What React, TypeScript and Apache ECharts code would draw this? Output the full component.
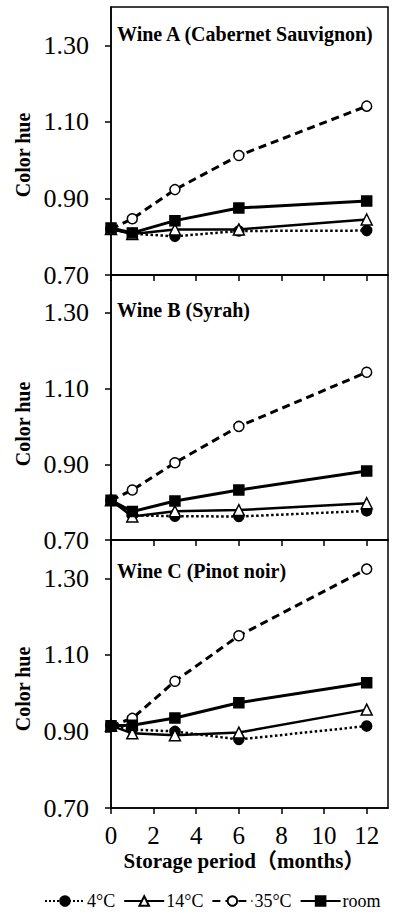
import React, { useEffect, useRef } from "react";
import * as echarts from "echarts";

const months = [0, 1, 3, 6, 12];
const seriesNames = ["4°C", "14°C", "35°C", "room"];
const panelTitles = ["Wine A (Cabernet Sauvignon)", "Wine B (Syrah)", "Wine C (Pinot noir)"];
const xTickValues = [0, 2, 4, 6, 8, 10, 12];
const yTickValues = [0.7, 0.9, 1.1, 1.3];

const wineA_4C = [0.82, 0.808, 0.801, 0.815, 0.816];
const wineA_14C = [0.82, 0.807, 0.819, 0.819, 0.845];
const wineA_35C = [0.82, 0.847, 0.923, 1.012, 1.141];
const wineA_room = [0.823, 0.81, 0.842, 0.875, 0.893];

const wineB_4C = [0.805, 0.765, 0.763, 0.762, 0.777];
const wineB_14C = [0.805, 0.762, 0.776, 0.779, 0.797];
const wineB_35C = [0.805, 0.832, 0.904, 1.0, 1.143];
const wineB_room = [0.805, 0.775, 0.803, 0.832, 0.882];

const wineC_4C = [0.915, 0.905, 0.9, 0.879, 0.914];
const wineC_14C = [0.915, 0.895, 0.89, 0.897, 0.957];
const wineC_35C = [0.915, 0.934, 1.031, 1.15, 1.324];
const wineC_room = [0.915, 0.916, 0.935, 0.975, 1.027];

const panels = [
  [wineA_4C, wineA_14C, wineA_35C, wineA_room],
  [wineB_4C, wineB_14C, wineB_35C, wineB_room],
  [wineC_4C, wineC_14C, wineC_35C, wineC_room],
];

const SERIF = "'Liberation Serif', 'Times New Roman', serif";

export default function App() {
  const ref = useRef<HTMLDivElement>(null);
  useEffect(() => {
    if (!ref.current) return;
    const chart = echarts.init(ref.current, null, { renderer: "svg" });

    const gridTops = [7, 275, 540];
    const gridHeights = [268, 265, 268];
    const grids = gridTops.map((t, i) => ({
      left: 111,
      right: 12,
      top: t,
      height: gridHeights[i],
      show: true,
      borderColor: "#000",
      borderWidth: 1.5,
      backgroundColor: "transparent",
    }));

    const xAxes = [0, 1, 2].map((i) => ({
      type: "value",
      gridIndex: i,
      min: 0,
      max: 13,
      axisLine: { show: true, lineStyle: { color: "#000", width: 1.5 } },
      axisTick: { show: true, inside: false, length: 6, customValues: xTickValues, lineStyle: { color: "#000", width: 1.5 } },
      axisLabel: {
        show: i === 2,
        customValues: xTickValues,
        fontSize: 25,
        fontFamily: SERIF,
        color: "#000",
        margin: 15,
      },
      splitLine: { show: false },
    }));

    const yAxes = [0, 1, 2].map((i) => ({
      type: "value",
      gridIndex: i,
      min: 0.7,
      max: 1.4,
      axisLine: { show: true, lineStyle: { color: "#000", width: 1.5 } },
      axisTick: { show: true, inside: false, length: 6, customValues: yTickValues, lineStyle: { color: "#000", width: 1.5 } },
      axisLabel: {
        customValues: yTickValues,
        formatter: (v: number) => v.toFixed(2),
        fontSize: 26,
        fontFamily: SERIF,
        color: "#000",
        margin: 22,
      },
      splitLine: { show: false },
    }));

    const styles = [
      { symbol: "circle", symbolSize: 10, fill: "#000", type: "dotted", width: 2.5 },
      { symbol: "triangle", symbolSize: 11, fill: "#fff", type: "solid", width: 2.5 },
      { symbol: "circle", symbolSize: 10, fill: "#fff", type: [8, 5], width: 3 },
      { symbol: "rect", symbolSize: 10, fill: "#000", type: "solid", width: 3 },
    ];

    const series: any[] = [];
    panels.forEach((panel, pi) => {
      panel.forEach((vals, si) => {
        const s = styles[si];
        series.push({
          type: "line",
          name: seriesNames[si],
          xAxisIndex: pi,
          yAxisIndex: pi,
          data: months.map((m, k) => [m, vals[k]]),
          symbol: s.symbol,
          symbolSize: s.symbolSize,
          showAllSymbol: true,
          itemStyle: { color: s.fill, borderColor: "#000", borderWidth: 1.5 },
          lineStyle: { color: "#000", width: s.width, type: s.type },
          z: 2 + si,
        });
      });
    });

    const graphics: any[] = [];
    const titleY = [35, 311, 572];
    panelTitles.forEach((t, i) => {
      graphics.push({
        type: "text",
        left: 117,
        top: titleY[i] - 11,
        style: { text: t, font: `bold 20px ${SERIF}`, fill: "#000" },
      });
    });
    const hueY = [155, 424, 689];
    hueY.forEach((y) => {
      graphics.push({
        type: "text",
        x: 23,
        y,
        rotation: Math.PI / 2,
        style: {
          text: "Color hue",
          font: `bold 20px ${SERIF}`,
          fill: "#000",
          textAlign: "center",
          textVerticalAlign: "middle",
        },
      });
    });
    graphics.push({
      type: "text",
      x: 244,
      y: 861,
      style: {
        text: "Storage period（months）",
        font: `bold 21px 'Liberation Serif', 'Noto Sans CJK SC', serif`,
        fill: "#000",
        textAlign: "center",
        textVerticalAlign: "middle",
      },
    });

    chart.setOption({
      animation: false,
      backgroundColor: "#fff",
      grid: grids,
      xAxis: xAxes,
      yAxis: yAxes,
      series,
      graphic: graphics,
      legend: {
        data: seriesNames,
        left: 44,
        top: 892,
        itemWidth: 40,
        itemHeight: 12,
        itemGap: 8,
        padding: 0,
        textStyle: { fontSize: 18, lineHeight: 18, fontFamily: SERIF, color: "#000", padding: [0, 0, 0, -3] },
        selectedMode: false,
      },
    });
    return () => chart.dispose();
  }, []);
  return (
    <div
      ref={ref}
      style={{ position: "absolute", left: 0, top: 0, width: 400, height: 913, background: "#fff" }}
    />
  );
}
